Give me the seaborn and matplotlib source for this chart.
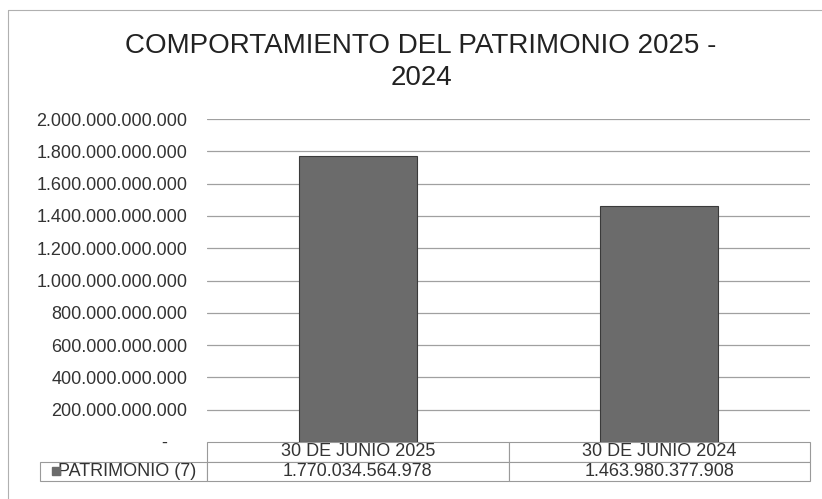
import matplotlib
matplotlib.use("Agg")
import matplotlib.pyplot as plt
import seaborn as sns
import pandas as pd
from matplotlib.lines import Line2D
from matplotlib.ticker import FixedLocator, FuncFormatter

categories = ["30 DE JUNIO 2025", "30 DE JUNIO 2024"]
values = [1770034564978, 1463980377908]
series_name = "PATRIMONIO (7)"
title = "COMPORTAMIENTO DEL PATRIMONIO 2025 -\n2024"
y_ticks = [0, 200e9, 400e9, 600e9, 800e9, 1000e9, 1200e9, 1400e9, 1600e9, 1800e9, 2000e9]

bar_color = "#6b6b6b"
text_color = "#333333"
grid_color = "#a0a0a0"


def thousands(v, pos=None):
    if v == 0:
        return "-    "
    return f"{int(round(v)):,}".replace(",", ".")


df = pd.DataFrame({"fecha": categories, "valor": values})

sns.set_style("white")
plt.rcParams["font.family"] = ["Liberation Sans", "DejaVu Sans"]

fig = plt.figure(figsize=(8.22, 4.99), dpi=100)
ax = fig.add_axes([207 / 822, 1 - 442 / 499, 603 / 822, 323 / 499])

sns.barplot(data=df, x="fecha", y="valor", color=bar_color, width=0.39,
            edgecolor="#3a3a3a", linewidth=0.8, ax=ax, zorder=3)

ax.set_ylim(0, 2e12)
ax.set_xlim(-0.5, 1.5)
ax.yaxis.set_major_locator(FixedLocator(y_ticks))
ax.yaxis.set_major_formatter(FuncFormatter(thousands))
for t in y_ticks[1:]:
    ax.axhline(t, color=grid_color, linewidth=0.9, zorder=1)
ax.tick_params(axis="y", length=0, pad=14, labelsize=13, labelcolor=text_color)
ax.set_xticks([])
ax.set_xlabel("")
ax.set_ylabel("")
for s in ax.spines.values():
    s.set_visible(False)

# data table under the plot: header row + value row with legend cell
lw = 167 / 603
tbl = ax.table(
    cellText=[[""] + categories, ["   " + series_name] + [thousands(v) for v in values]],
    colWidths=[lw, 0.5, 0.5],
    cellLoc="center",
    bbox=[-lw, -39 / 323, 1 + lw, 39 / 323],
)
tbl.auto_set_font_size(False)
for (r, c), cell in tbl.get_celld().items():
    cell.set_edgecolor("#9a9a9a")
    cell.set_linewidth(0.8)
    cell.get_text().set_fontsize(13)
    cell.get_text().set_color(text_color)
tbl[(0, 0)].set_visible(False)
tbl[(1, 0)].get_text().set_horizontalalignment("left")
tbl[(1, 0)].PAD = 0.02

# legend key square in the row label cell
ax.plot([-151 / 603], [-29 / 323], marker="s", markersize=6, color=bar_color,
        transform=ax.transAxes, clip_on=False)

fig.text(421 / 822, 1 - 62 / 499, title, ha="center", va="center",
         fontsize=20, color="#222222", linespacing=1.3)

# outer chart border (top and left edges visible)
fig.add_artist(Line2D([8 / 822, 1], [1 - 10 / 499, 1 - 10 / 499],
                      color="#b0b0b0", linewidth=0.8))
fig.add_artist(Line2D([8 / 822, 8 / 822], [0, 1 - 10 / 499],
                      color="#b0b0b0", linewidth=0.8))

fig.savefig("out.png", dpi=100)
plt.close(fig)
